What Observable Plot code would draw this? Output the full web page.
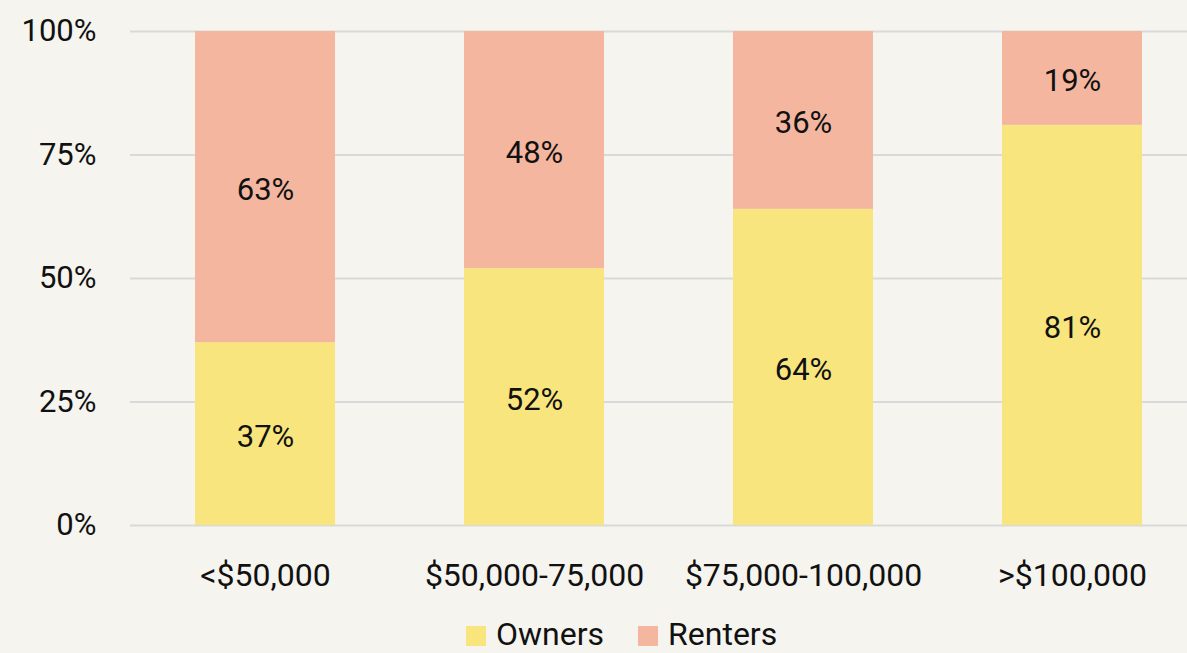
<!DOCTYPE html>
<html>
<head>
<meta charset="utf-8">
<script src="https://cdn.jsdelivr.net/npm/d3@7"></script>
<script src="https://cdn.jsdelivr.net/npm/@observablehq/plot@0.6"></script>
<style>
  html, body { margin: 0; padding: 0; background: #f5f4ee; overflow: hidden; width: 1187px; height: 653px; }
  #chart { position: relative; width: 1187px; height: 653px; overflow: hidden; font-family: Roboto, "Noto Sans", sans-serif; }
  #plot svg { max-width: none !important; display: block; }
  #legend { position: absolute; top: 616px; left: 466px; display: flex; align-items: center; font-size: 32px; color: #111; line-height: 36px; }
  #legend .sw { width: 20px; height: 20px; display: inline-block; margin-right: 10px; margin-top: 4px; }
  #legend .item { display: flex; align-items: center; margin-right: 34px; }
</style>
</head>
<body>
<div id="chart"><div id="plot"></div><div id="legend"></div></div>
<script>
const categories = ["<$50,000", "$50,000-75,000", "$75,000-100,000", ">$100,000"];
const series = ["Owners", "Renters"];
const owners = [37, 52, 64, 81];
const renters = [63, 48, 36, 19];
const yTicks = [0, 25, 50, 75, 100];
const colors = ["#f9e57e", "#f5b6a0"];

const data = [];
categories.forEach((c, i) => {
  data.push({income: c, type: "Owners", value: owners[i]});
  data.push({income: c, type: "Renters", value: renters[i]});
});

const plot = Plot.plot({
  width: 1207,
  height: 600,
  marginLeft: 130,
  marginRight: 0,
  marginTop: 31,
  marginBottom: 75,
  style: {background: "transparent", fontFamily: "Roboto, 'Noto Sans', sans-serif", fontSize: "31px", color: "#111", maxWidth: "none"},
  x: {domain: categories, label: null, paddingInner: 0.48, paddingOuter: 0.24, tickSize: 0, tickPadding: 38},
  y: {domain: [0, 100], ticks: yTicks, tickFormat: d => d + "%", label: null, tickSize: 0, tickPadding: 34},
  color: {domain: series, range: colors},
  marks: [
    Plot.gridY(yTicks, {stroke: "#d9d9d9", strokeOpacity: 1, strokeWidth: 2}),
    Plot.barY(data, {x: "income", y: "value", fill: "type", order: series}),
    Plot.text(data, Plot.stackY({x: "income", y: "value", z: "type", order: series, text: d => d.value + "%", fill: "#111", fontSize: 31, dy: 3})),
    Plot.axisX({tickSize: 0, tickPadding: 38, fontSize: 32, style: "letter-spacing: 1.5px"}),
    Plot.axisY({ticks: yTicks, tickFormat: d => d + "%", tickSize: 0, tickPadding: 34, fontSize: 31})
  ]
});
document.getElementById("plot").appendChild(plot);

const legend = document.getElementById("legend");
series.forEach((s, i) => {
  const item = document.createElement("div");
  item.className = "item";
  item.innerHTML = `<span class="sw" style="background:${colors[i]}"></span><span>${s}</span>`;
  legend.appendChild(item);
});
</script>
</body>
</html>
